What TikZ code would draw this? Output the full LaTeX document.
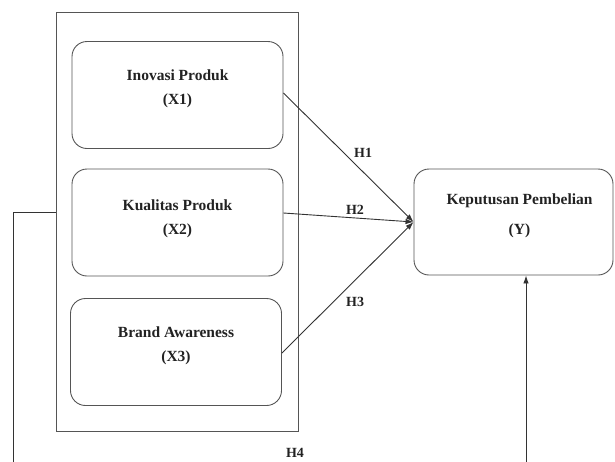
\documentclass[tikz,border=0pt]{standalone}
\usepackage{fontspec}
\setmainfont{Liberation Serif}
\usepackage{tikz}
\usetikzlibrary{arrows.meta,positioning,calc}
\definecolor{BoxLine}{HTML}{555555}
\definecolor{LinkLine}{HTML}{333333}
\definecolor{LabelInk}{HTML}{222222}

\begin{document}
\begin{tikzpicture}[x=1pt,y=-1pt,
	varbox/.style={draw=BoxLine,line width=0.9pt,rounded corners=15pt,minimum width=211pt,minimum height=107pt,inner sep=0pt},
	groupbox/.style={draw=BoxLine,line width=0.9pt,minimum width=242pt,minimum height=419pt,inner sep=0pt},
	vartext/.style={align=center,text=LabelInk,font=\fontsize{15.5}{18}\selectfont\bfseries},
	hyp/.style={text=LabelInk,font=\fontsize{14}{16}\selectfont\bfseries,inner sep=1pt},
	link/.style={draw=LinkLine,line width=0.9pt,-{Latex[length=8pt,width=5.5pt]}}]
		\useasboundingbox (0,0) rectangle (615,461);
		\clip (0,0) rectangle (615,461);
		\node[groupbox] (grp) at (177,221.5) {};
		\node[varbox] (x1) at (177.5,95) {};
		\node[vartext] (x1t) at ([yshift=6.5]x1.center) {Inovasi Produk\\[6pt](X1)};
		\node[varbox] (x2) at (177.5,222.5) {};
		\node[vartext] (x2t) at ([yshift=4]x2.center) {Kualitas Produk\\[6pt](X2)};
		\node[varbox] (x3) at (176,352) {};
		\node[vartext] (x3t) at ([yshift=6]x3.center) {Brand Awareness\\[6pt](X3)};
		\node[varbox,minimum width=199pt,minimum height=106pt] (y) at (513.5,222) {};
		\node[vartext] (yt) at ([xshift=6,yshift=6]y.center) {Keputusan Pembelian\\[12pt](Y)};
		\draw[link] ([yshift=2]x1.east) -- (y.west) node[hyp,pos=0.62,xshift=-1,yshift=20] (h1) {H1};
		\draw[link] ([yshift=9.5]x2.east) -- (y.west) node[hyp,pos=0.55,above=2pt] (h2) {H2};
		\draw[link] ([yshift=-1]x3.east) -- (y.west) node[hyp,pos=0.45,xshift=14,yshift=-8] (h3) {H3};
		\coordinate (lc) at (13,480);
		\coordinate (rc) at (526,480);
		\draw[link] ([yshift=9.5]grp.west) -| (lc) -- (rc) -- ([xshift=12.5]y.south);
		\node[hyp] (h4) at (295,453) {H4};
	\end{tikzpicture}
\end{document}
